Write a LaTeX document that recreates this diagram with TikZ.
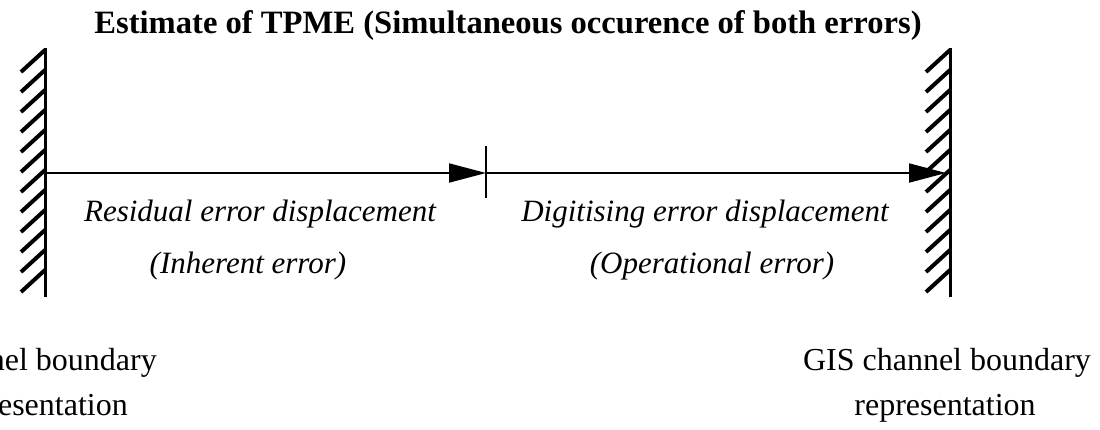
\documentclass[tikz,border=0pt]{standalone}
\usepackage{fontspec}
\setmainfont{Liberation Serif}
\usetikzlibrary{arrows.meta,calc}
\begin{document}
\begin{tikzpicture}[x=1pt,y=-1pt,
  wall/.style={line width=3pt},
  hatch/.style={line width=4pt},
  conn/.style={line width=1.8pt,-{Triangle[length=37pt,width=19pt]}},
  tick/.style={line width=1.6pt},
  titletext/.style={font=\fontsize{32.6}{38}\selectfont\bfseries,inner sep=0pt},
  lbl/.style={font=\fontsize{31}{36}\selectfont\itshape,inner sep=0pt},
  plain/.style={font=\fontsize{32}{38}\selectfont,inner sep=0pt}]
\useasboundingbox (0,0) rectangle (1100,429);
% title
\node[titletext,anchor=base] (title) at (508,33) {Estimate of TPME (Simultaneous occurence of both errors)};
% walls
\coordinate (LT) at (45,48); \coordinate (LB) at (45,297);
\coordinate (RT) at (950,48); \coordinate (RB) at (950,297);
\draw[wall] (LT) -- (LB);
\draw[wall] (RT) -- (RB);
\foreach \y in {50,70,...,270} {
  \draw[hatch] (45,\y) -- ++(-24,22);
  \draw[hatch] (950,\y) -- ++(-24,22);
}
% arrows
\coordinate (A) at (45,173);
\coordinate (M) at (486,173);
\coordinate (B) at (946,173);
\draw[conn] (A) -- (M);
\draw[conn] (M) -- (B);
\draw[tick] ($(M)+(0,-27)$) -- ($(M)+(0,25)$);
% labels
\node[lbl,anchor=base] (res) at (260,221) {Residual error displacement};
\node[lbl,anchor=base] (inh) at (248,273) {(Inherent error)};
\node[lbl,anchor=base] (dig) at (705,221) {Digitising error displacement};
\node[lbl,anchor=base] (ope) at (712,273) {(Operational error)};
% bottom texts
\node[plain,anchor=base east] (lb1) at (157,370) {nel boundary};
\node[plain,anchor=base east] (lb2) at (128,415) {esentation};
\node[plain,anchor=base] (rb1) at (947,370) {GIS channel boundary};
\node[plain,anchor=base] (rb2) at (945,415) {representation};
\end{tikzpicture}
\end{document}
